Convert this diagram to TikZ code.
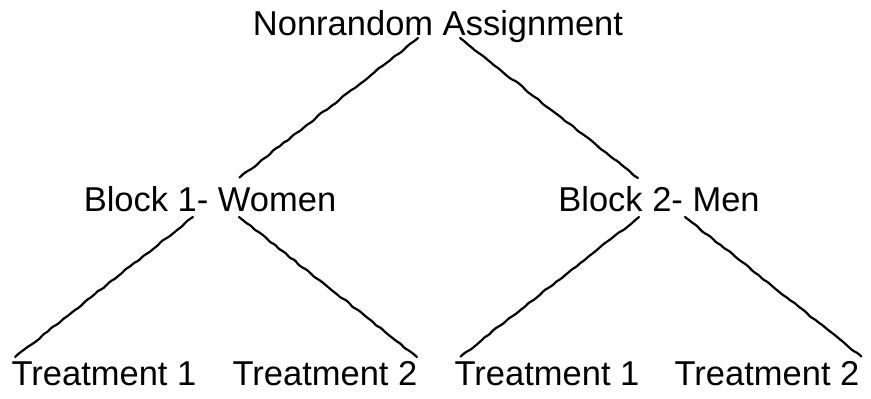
\documentclass[tikz,border=0pt]{standalone}
\usepackage{fontspec}
\setmainfont{Liberation Sans}
\usetikzlibrary{calc, decorations.pathmorphing}

\begin{document}
\begin{tikzpicture}[
                x=0.5pt, y=-0.5pt,
                every node/.style={anchor=base, inner sep=0pt, font=\fontsize{17.25}{20}\selectfont}, % plain text labels
                branch/.style={line width=1.1pt, line cap=round, line join=round, rounded corners=0.8pt, decorate,
                    decoration={random steps, segment length=2.5pt, amplitude=0.4pt}} % wavy hand-drawn line
                ]
                \pgfmathsetseed{7}
                \useasboundingbox (0,0) rectangle (871,398);
                \node (root) at (438,35) {Nonrandom Assignment};
                \node (women) at (210,211) {Block 1- Women};
                \node (men) at (659,211) {Block 2- Men};
                \node (wone) at (104,385) {Treatment 1};
                \node (wtwo) at (325,385) {Treatment 2};
                \node (mone) at (547,385) {Treatment 1};
                \node (mtwo) at (767,385) {Treatment 2};
                % root to blocks
                \draw[branch] ($(root.base)+(-20,3)$) -- ($(women.base)+(29,-33)$);
                \draw[branch] ($(root.base)+(22,3)$) -- ($(men.base)+(-21,-33)$);
                % blocks to treatments
                \draw[branch] ($(women.base)+(-17,6)$) -- ($(wone.base)+(-89,-28)$);
                \draw[branch] ($(women.base)+(29,6)$) -- ($(wtwo.base)+(92,-28)$);
                \draw[branch] ($(men.base)+(-20,6)$) -- ($(mone.base)+(-87,-28)$);
                \draw[branch] ($(men.base)+(26,6)$) -- ($(mtwo.base)+(95,-28)$);
            \end{tikzpicture}
\end{document}
